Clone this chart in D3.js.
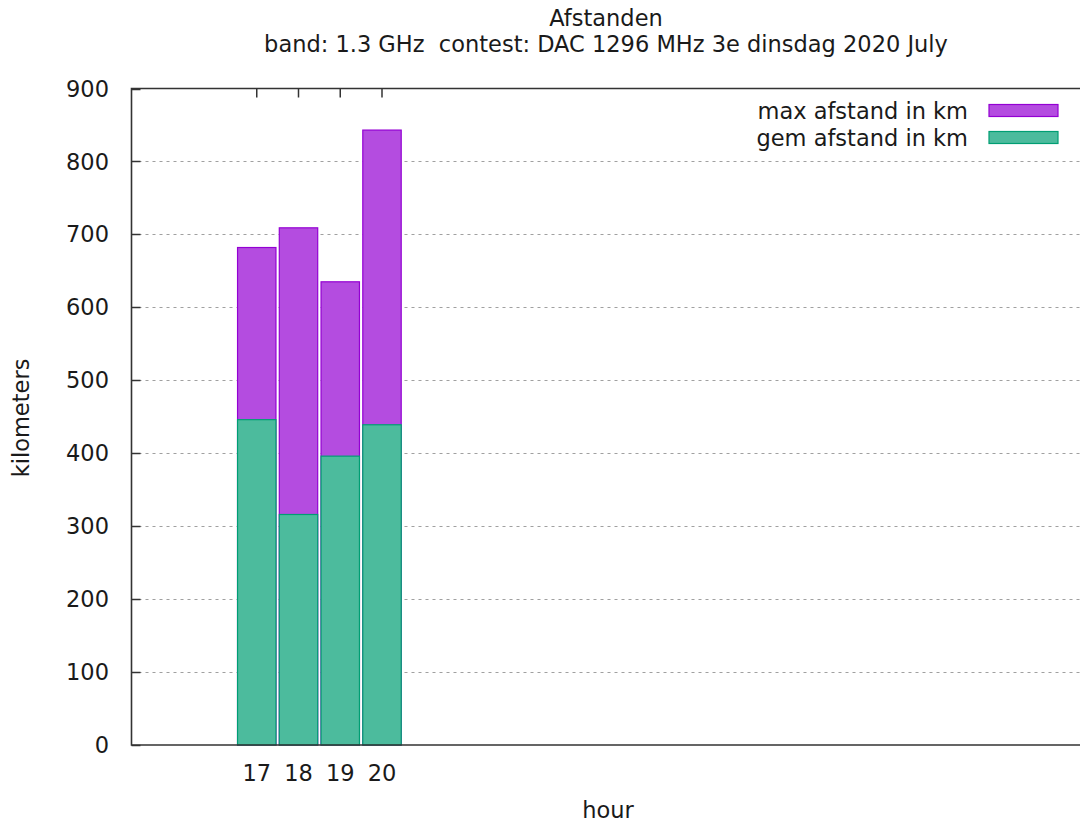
<!DOCTYPE html>
<html><head><meta charset="utf-8">
<script src="https://cdn.jsdelivr.net/npm/d3@7"></script>
<style>body{margin:0;background:#fff}svg{display:block}text{font-family:"DejaVu Sans",sans-serif;fill:#1a1a1a;white-space:pre}</style>
</head><body>
<script>
const hours = [17, 18, 19, 20];
const maxAfstand = [682, 709, 635, 843];
const gemAfstand = [446, 316, 396, 439];
const yTicks = [0, 100, 200, 300, 400, 500, 600, 700, 800, 900];
const titleLines = ["Afstanden", "band: 1.3 GHz  contest: DAC 1296 MHz 3e dinsdag 2020 July"];
const seriesNames = ["max afstand in km", "gem afstand in km"];

const W = 1080, H = 826;
const svg = d3.select("body").append("svg").attr("width", W).attr("height", H);
const pLeft = 131.5, pTop = 88.5, pBottom = 745;
const x = d3.scaleLinear().domain([14, 37]).range([pLeft, pLeft + 23 * 41.75]);
const y = d3.scaleLinear().domain([0, 900]).range([pBottom, pTop]);
const fs = 22.5;

// grid
svg.append("g").selectAll("line").data(yTicks.filter(d => d > 0 && d < 900)).join("line")
  .attr("x1", pLeft).attr("x2", W).attr("y1", d => Math.round(y(d)) + 0.5).attr("y2", d => Math.round(y(d)) + 0.5)
  .attr("stroke", "#a0a0a0").attr("stroke-width", 1.2).attr("stroke-dasharray", "3,4");

const bw = 0.92;
const colors = [{fill: "#b44ce0", stroke: "#9400d3"}, {fill: "#4cbb9d", stroke: "#009e73"}];
[maxAfstand, gemAfstand].forEach((vals, si) => {
  svg.append("g").selectAll("rect").data(hours.map((h, i) => ({h, v: vals[i]}))).join("rect")
    .attr("x", d => x(d.h - bw / 2)).attr("width", d => x(d.h + bw / 2) - x(d.h - bw / 2))
    .attr("y", d => y(d.v)).attr("height", d => y(0) - y(d.v))
    .attr("fill", colors[si].fill).attr("stroke", colors[si].stroke).attr("stroke-width", 1.2);
});

// y ticks inward
svg.append("g").selectAll("line").data(yTicks).join("line")
  .attr("x1", pLeft).attr("x2", pLeft + 9).attr("y1", d => Math.round(y(d)) + 0.5).attr("y2", d => Math.round(y(d)) + 0.5)
  .attr("stroke", "#333").attr("stroke-width", 1.5);
// top mirror x ticks
svg.append("g").selectAll("line").data(hours).join("line")
  .attr("x1", d => x(d)).attr("x2", d => x(d)).attr("y1", pTop).attr("y2", pTop + 9)
  .attr("stroke", "#333").attr("stroke-width", 1.5);

// border
svg.append("path").attr("d", `M${W},${pTop}H${pLeft}V${pBottom}H${W}`)
  .attr("fill", "none").attr("stroke", "#333").attr("stroke-width", 1.6);

// tick labels
svg.append("g").selectAll("text").data(yTicks).join("text")
  .attr("x", 109).attr("y", d => y(d)).attr("dy", "0.36em").attr("text-anchor", "end")
  .attr("font-size", fs).text(d => d);
svg.append("g").selectAll("text").data(hours).join("text")
  .attr("x", d => x(d)).attr("y", 781).attr("text-anchor", "middle")
  .attr("font-size", fs).text(d => d);

// titles
svg.append("g").selectAll("text").data(titleLines).join("text")
  .attr("x", 606).attr("y", (d, i) => 26 + i * 26).attr("text-anchor", "middle")
  .attr("font-size", fs).text(d => d);
svg.append("text").attr("transform", "translate(29,418) rotate(-90)").attr("text-anchor", "middle")
  .attr("font-size", fs).text("kilometers");
svg.append("text").attr("x", 608).attr("y", 818).attr("text-anchor", "middle")
  .attr("font-size", fs).text("hour");

// legend
const lg = svg.append("g").selectAll("g").data(seriesNames).join("g")
  .attr("transform", (d, i) => `translate(0,${110.5 + i * 27})`);
lg.append("text").attr("x", 968).attr("y", 0).attr("dy", "0.36em").attr("text-anchor", "end")
  .attr("font-size", fs).text(d => d);
lg.append("rect").attr("x", 989).attr("y", -6).attr("width", 69).attr("height", 12)
  .attr("fill", (d, i) => colors[i].fill).attr("stroke", (d, i) => colors[i].stroke).attr("stroke-width", 1.2);
</script>
</body></html>
